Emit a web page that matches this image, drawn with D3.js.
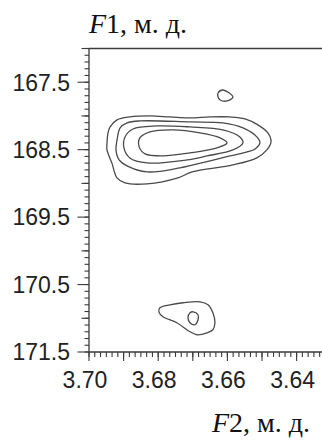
<!DOCTYPE html>
<html><head><meta charset="utf-8">
<script src="https://cdn.jsdelivr.net/npm/d3@7"></script>
<style>html,body{margin:0;padding:0;background:#fff;overflow:hidden}</style>
</head><body>
<svg id="c" width="322" height="441"></svg>
<script>
// Tick values / labels
const xMajorTicks = [3.70, 3.68, 3.66, 3.64];
const xTickLabels = ["3.70", "3.68", "3.66", "3.64"];
const yMajorTicks = [167.5, 168.5, 169.5, 170.5, 171.5];
const yTickLabels = ["167.5", "168.5", "169.5", "170.5", "171.5"];
const xTitle = "2, м. д.";
const yTitle = "1, м. д.";

// Contours: [F2 ppm, F1 ppm]
const peakA1 = [[3.6945,168.252],[3.6939,168.163],[3.6919,168.059],[3.6882,168.015],[3.6824,168.000],[3.6766,168.015],[3.6708,168.030],[3.6650,168.015],[3.6593,168.015],[3.6549,168.044],[3.6512,168.133],[3.6483,168.252],[3.6474,168.385],[3.6486,168.504],[3.6515,168.622],[3.6584,168.726],[3.6702,168.830],[3.6743,168.919],[3.6832,169.007],[3.6896,168.993],[3.6919,168.919],[3.6934,168.696],[3.6948,168.504],[3.6948,168.400]];
const peakA2 = [[3.6919,168.356],[3.6910,168.178],[3.6890,168.104],[3.6853,168.074],[3.6708,168.089],[3.6613,168.104],[3.6555,168.178],[3.6515,168.311],[3.6506,168.400],[3.6520,168.489],[3.6543,168.533],[3.6593,168.593],[3.6699,168.726],[3.6737,168.770],[3.6832,168.830],[3.6890,168.741],[3.6913,168.652],[3.6922,168.504]];
const peakA3 = [[3.6899,168.474],[3.6896,168.311],[3.6873,168.193],[3.6803,168.148],[3.6708,168.163],[3.6613,168.207],[3.6564,168.311],[3.6555,168.400],[3.6584,168.504],[3.6659,168.593],[3.6717,168.652],[3.6832,168.696],[3.6882,168.622]];
const peakA4 = [[3.6855,168.459],[3.6853,168.326],[3.6824,168.237],[3.6757,168.207],[3.6679,168.252],[3.6621,168.326],[3.6601,168.400],[3.6630,168.474],[3.6708,168.548],[3.6786,168.593],[3.6838,168.563]];
const peakB1 = [[3.6627,167.659],[3.6613,167.615],[3.6584,167.719],[3.6601,167.778],[3.6621,167.763],[3.6627,167.719]];
const peakC1 = [[3.6795,170.844],[3.6766,170.800],[3.6728,170.770],[3.6679,170.756],[3.6656,170.800],[3.6642,170.919],[3.6636,171.067],[3.6642,171.170],[3.6659,171.215],[3.6688,171.244],[3.6708,171.200],[3.6746,171.067],[3.6786,170.978],[3.6798,170.904]];
const peakC2 = [[3.6699,170.904],[3.6685,170.948],[3.6685,171.022],[3.6694,171.096],[3.6708,171.067],[3.6714,170.993],[3.6708,170.919]];

const contours = [peakA1, peakA2, peakA3, peakA4, peakB1, peakC1, peakC2];

const svg = d3.select("#c");
const plotL = 89, plotT = 48.5, plotB = 352;
const x = d3.scaleLinear().domain([3.70, 3.632]).range([plotL, plotL + 0.068 * 3460]);
const y = d3.scaleLinear().domain([167.0, 171.5]).range([plotT, plotB]);

const axisColor = "#3a3a3a";
const g = svg.append("g");

// contours
const line = d3.line().x(d => x(d[0])).y(d => y(d[1])).curve(d3.curveCatmullRomClosed.alpha(0.5));
g.selectAll("path.ct").data(contours).join("path")
  .attr("class", "ct").attr("d", line)
  .attr("fill", "none").attr("stroke", "#4a4a4a").attr("stroke-width", 1.3);

// minor tick generators
const xMinor = d3.range(0, 41).map(i => 3.70 - i * 0.01 / 6).filter(v => v >= 3.632);
const xMid = d3.range(0, 7).map(i => 3.70 - i * 0.01);
const yMinor = d3.range(0, 46).map(i => 167.0 + i * 0.1);
const yMid = d3.range(167, 172, 1);

// frame
g.append("line").attr("x1", plotL).attr("x2", 322).attr("y1", plotT).attr("y2", plotT)
  .attr("stroke", axisColor).attr("stroke-width", 1.3);
g.append("line").attr("x1", plotL).attr("x2", plotL).attr("y1", plotT).attr("y2", plotB)
  .attr("stroke", axisColor).attr("stroke-width", 1.3);
g.append("line").attr("x1", plotL).attr("x2", 322).attr("y1", plotB).attr("y2", plotB)
  .attr("stroke", axisColor).attr("stroke-width", 1.3);

// x ticks
g.selectAll("line.xmin").data(xMinor).join("line").attr("class","xmin")
  .attr("x1", d => x(d)).attr("x2", d => x(d)).attr("y1", plotB).attr("y2", plotB + 5)
  .attr("stroke", axisColor).attr("stroke-width", 1.1);
g.selectAll("line.xmid").data(xMid).join("line").attr("class","xmid")
  .attr("x1", d => x(d)).attr("x2", d => x(d)).attr("y1", plotB).attr("y2", plotB + 9)
  .attr("stroke", axisColor).attr("stroke-width", 1.1);
g.selectAll("text.xl").data(xMajorTicks).join("text").attr("class","xl")
  .attr("x", d => x(d) - 4).attr("y", 388)
  .attr("text-anchor", "middle").attr("font-family", "Liberation Sans, Arial, sans-serif")
  .attr("font-size", 23).attr("fill", "#222").text((d, i) => xTickLabels[i]);

// y ticks
g.selectAll("line.ymin").data(yMinor).join("line").attr("class","ymin")
  .attr("x1", plotL - 4.5).attr("x2", plotL).attr("y1", d => y(d)).attr("y2", d => y(d))
  .attr("stroke", axisColor).attr("stroke-width", 1.1);
g.selectAll("line.ymid").data(yMid).join("line").attr("class","ymid")
  .attr("x1", plotL - 7.5).attr("x2", plotL).attr("y1", d => y(d)).attr("y2", d => y(d))
  .attr("stroke", axisColor).attr("stroke-width", 1.1);
g.selectAll("line.ymaj").data(yMajorTicks).join("line").attr("class","ymaj")
  .attr("x1", plotL - 11.5).attr("x2", plotL).attr("y1", d => y(d)).attr("y2", d => y(d))
  .attr("stroke", axisColor).attr("stroke-width", 1.1);
g.selectAll("text.yl").data(yMajorTicks).join("text").attr("class","yl")
  .attr("x", 70).attr("y", d => y(d)).attr("dy", "0.36em")
  .attr("text-anchor", "end").attr("font-family", "Liberation Sans, Arial, sans-serif")
  .attr("font-size", 23).attr("fill", "#222").text((d, i) => yTickLabels[i]);

// titles
function title(xp, yp, letter, rest) {
  const t = svg.append("text").attr("x", xp).attr("y", yp)
    .attr("font-family", "Liberation Serif, Times New Roman, serif").attr("font-size", 28).attr("fill", "#111");
  t.append("tspan").attr("font-style", "italic").text(letter);
  t.append("tspan").text(rest);
}
title(89, 33, "F", yTitle);
title(212, 432, "F", xTitle);
</script>
</body></html>
